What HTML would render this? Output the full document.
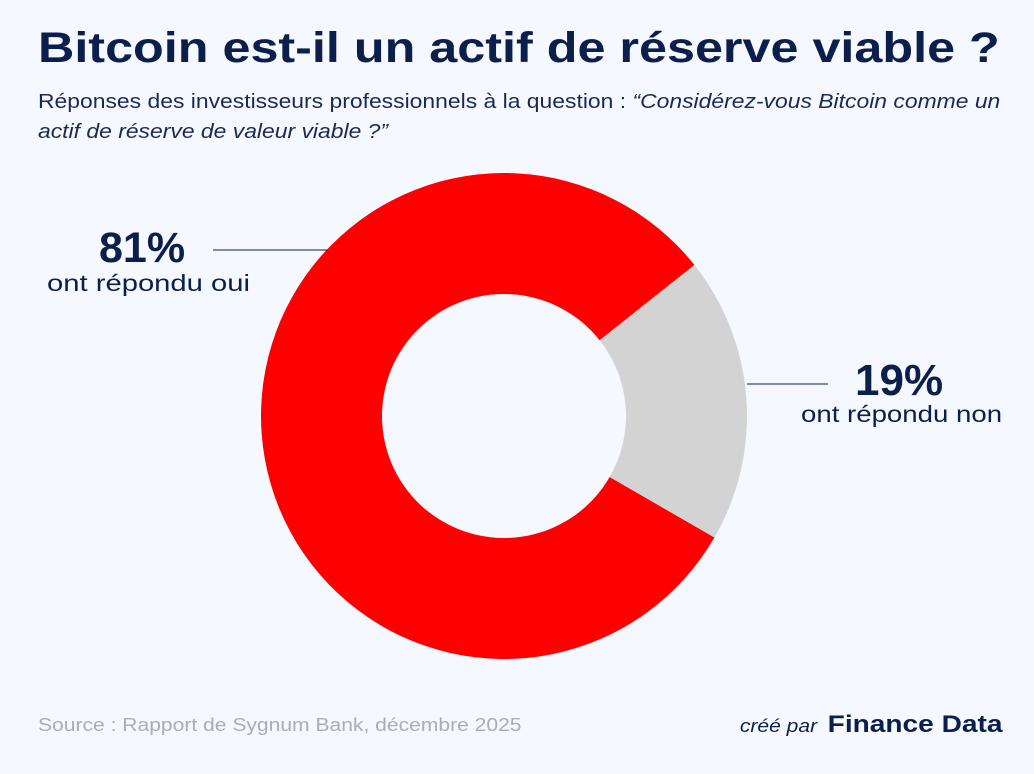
<!DOCTYPE html>
<html><head><meta charset="utf-8"><style>
body{margin:0;width:1034px;height:774px;background:#f5f8fe;font-family:"Liberation Sans",sans-serif;color:#0c1e4c;overflow:hidden;position:relative}
.t{position:absolute;white-space:nowrap;transform-origin:left top}
</style></head><body>
<div class="t" style="left:38px;top:24px;font-size:43px;font-weight:bold;transform:scaleX(1.17)">Bitcoin est-il un actif de réserve viable ?</div>
<div class="t" style="left:38px;top:87px;font-size:20px;line-height:30px;color:#1a2a55;transform:scaleX(1.145)">Réponses des investisseurs professionnels à la question : <i>“Considérez-vous Bitcoin comme un</i><br><i>actif de réserve de valeur viable ?”</i></div>
<svg id="c" width="1034" height="774" style="position:absolute;left:0;top:0"></svg>
<div class="t" style="left:99px;top:224px;font-size:43px;font-weight:bold">81%</div>
<div class="t" style="left:47px;top:270px;font-size:23px;transform:scaleX(1.27)">ont répondu oui</div>
<div class="t" style="left:855px;top:356px;font-size:44px;font-weight:bold">19%</div>
<div class="t" style="left:801px;top:401px;font-size:23px;transform:scaleX(1.2)">ont répondu non</div>
<div class="t" style="left:38px;top:715px;font-size:18px;color:#a9adb8;transform:scaleX(1.17)">Source : Rapport de Sygnum Bank, décembre 2025</div>
<div class="t" style="right:32px;top:711px;font-size:18px;transform-origin:right top;transform:scaleX(1.17)"><i>créé par</i> <b style="font-size:24px;margin-left:4px">Finance Data</b></div>
<script>
const categories=["oui","non"];
const values=[81,19];
const colors=["#ff0000","#d3d3d3"];
const svg=document.getElementById('c');
const cx=504,cy=416,R=243,r=122,start=120;
let a=start;
function pt(ang,rad){const t=(ang-90)*Math.PI/180;return [cx+rad*Math.cos(t),cy+rad*Math.sin(t)];}
const tot=values.reduce((s,v)=>s+v,0);
values.forEach((v,i)=>{
 const sw=v/tot*360,b=a+sw,l=sw>180?1:0;
 const p1=pt(a,R),p2=pt(b,R),p3=pt(b,r),p4=pt(a,r);
 const p=document.createElementNS('http://www.w3.org/2000/svg','path');
 p.setAttribute('d',`M${p1[0]},${p1[1]}A${R},${R} 0 ${l} 1 ${p2[0]},${p2[1]}L${p3[0]},${p3[1]}A${r},${r} 0 ${l} 0 ${p4[0]},${p4[1]}Z`);
 p.setAttribute('fill',colors[i]);
 
 
 svg.appendChild(p);a=b;
});
[[213,250,328,250,'leader-line-oui'],[747,384,828,384,'leader-line-non']].forEach(d=>{
 const ln=document.createElementNS('http://www.w3.org/2000/svg','line');
 ln.setAttribute('x1',d[0]);ln.setAttribute('y1',d[1]);ln.setAttribute('x2',d[2]);ln.setAttribute('y2',d[3]);
 ln.setAttribute('stroke','#0c1e4c');ln.setAttribute('stroke-width','1');
 
 
 svg.appendChild(ln);
});
</script>
</body></html>
